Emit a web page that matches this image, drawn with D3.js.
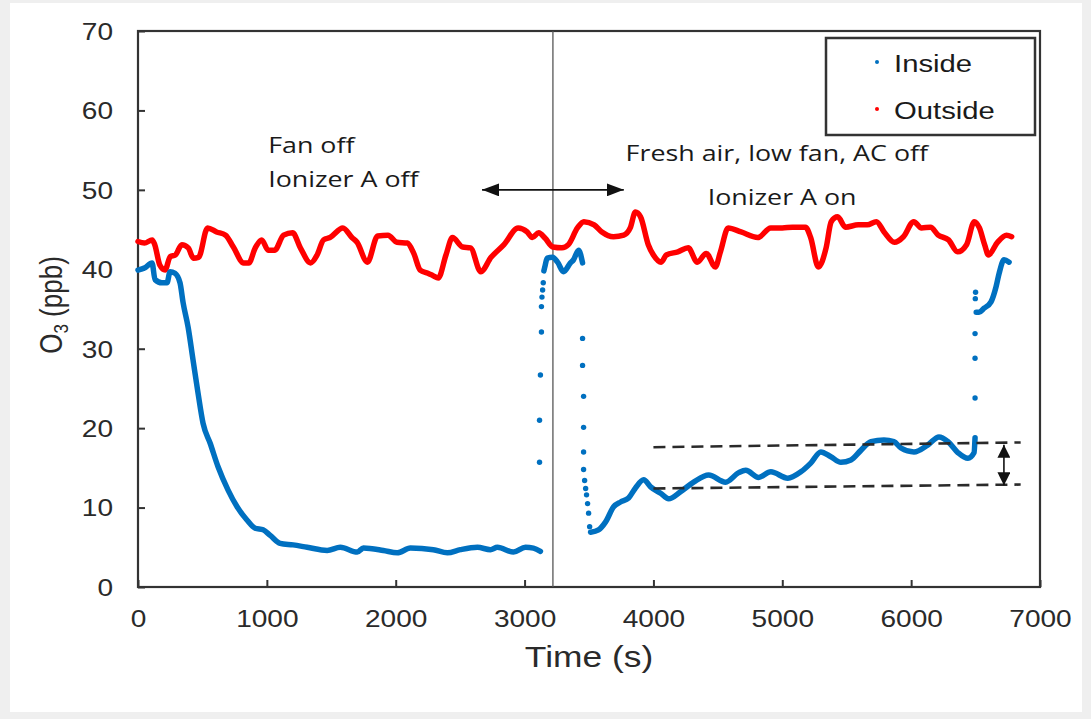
<!DOCTYPE html>
<html>
<head>
<meta charset="utf-8">
<script src="https://cdn.jsdelivr.net/npm/d3@7/dist/d3.min.js"></script>
<style>
  body { margin: 0; background: #efefef; }
  svg { display: block; }
</style>
</head>
<body>
<div class="ozoneChart"></div>
<script>
// time (s), O3 (ppb)
var outside = [[0,43.5],[50,43.3],[110,43.7],[130,43.1],[170,40.5],[210,39.9],[250,41.6],[290,41.8],[340,43.1],[390,42.7],
  [430,41.4],[470,41.5],[540,45.2],[610,44.7],[680,44.3],[740,42.8],[820,40.8],[860,40.8],[910,42.7],[960,43.7],
  [1010,42.4],[1060,42.4],[1130,44.3],[1200,44.6],[1260,42.7],[1340,40.8],[1390,41.8],[1440,43.7],[1490,44.0],[1590,45.2],
  [1660,44.0],[1700,43.4],[1780,40.9],[1860,44.2],[1940,44.3],[2010,43.4],[2090,43.3],[2140,42.0],[2190,39.9],[2250,39.5],
  [2290,39.2],[2330,38.9],[2390,41.8],[2440,44.0],[2520,42.8],[2580,42.7],[2660,39.7],[2740,41.5],[2840,43.1],[2950,45.2],
  [3020,44.7],[3060,44.0],[3110,44.6],[3160,43.9],[3220,42.8],[3290,42.7],[3340,43.1],[3410,45.2],[3460,46.0],[3540,45.6],
  [3600,44.7],[3690,44.1],[3770,44.3],[3820,45.2],[3860,47.2],[3900,46.6],[3960,43.1],[4000,41.8],[4060,40.9],[4100,41.8],
  [4190,42.2],[4270,42.7],[4340,40.9],[4410,42.0],[4480,40.3],[4520,42.2],[4580,45.2],[4680,44.7],[4810,44.0],[4910,45.2],
  [5000,45.2],[5080,45.3],[5180,45.3],[5220,44.0],[5280,40.3],[5340,42.7],[5380,46.0],[5430,46.6],[5490,45.3],[5590,45.6],
  [5660,45.6],[5730,46.0],[5790,44.7],[5870,43.4],[5940,44.1],[6020,46.0],[6080,45.2],[6150,45.3],[6210,44.3],[6290,43.7],
  [6360,42.2],[6430,43.1],[6490,46.0],[6530,45.2],[6570,43.1],[6600,41.8],[6670,43.4],[6740,44.3],[6780,44.1]];

// inside: continuous runs of dense points
var insideRun1 = [[0,39.9],[54,40.2],[109,40.8],[132,38.7],[186,38.3],[225,38.3],[249,39.7],[287,39.5],[326,38.3],[350,35.8],
  [389,32.7],[427,28.6],[466,24.4],[505,20.6],[560,18.1],[622,15.1],[699,12.2],[769,10.1],[847,8.4],[909,7.4],
  [971,7.2],[1026,6.5],[1103,5.5],[1204,5.3],[1313,5.0],[1468,4.6],[1570,5.0],[1702,4.4],[1749,4.9],[1904,4.6],
  [2012,4.3],[2114,4.9],[2292,4.7],[2401,4.3],[2502,4.7],[2634,5.0],[2735,4.7],[2789,5.0],[2914,4.4],[3007,5.0],
  [3069,4.9],[3123,4.5]];
var insideRun2 = [[3150,39.8],[3160,40.5],[3175,41.4],[3217,41.5],[3256,40.9],[3302,39.7],[3356,40.8],[3380,41.2],[3419,42.4],[3450,40.8]];
var insideRun3 = [[3512,6.9],[3574,7.2],[3629,8.2],[3691,10.1],[3745,10.7],[3807,11.2],[3862,12.5],[3924,13.5],[3978,12.6],[4056,11.8],
  [4118,11.1],[4211,12.0],[4312,13.2],[4429,14.1],[4560,13.2],[4662,14.4],[4716,14.7],[4817,13.8],[4911,14.5],[5043,13.7],
  [5144,14.5],[5221,15.6],[5299,17.0],[5377,16.4],[5455,15.7],[5533,16.0],[5610,17.2],[5688,18.3],[5789,18.5],[5866,18.3],
  [5921,17.5],[6022,17.0],[6131,17.9],[6216,18.9],[6286,18.3],[6364,16.9],[6441,16.2],[6488,16.9],[6496,18.8]];
var insideRun4 = [[6505,34.6],[6527,34.6],[6566,35.1],[6620,35.9],[6659,37.8],[6683,39.5],[6721,41.2],[6760,40.9]];
// inside: sparse points during the fast changes
var insideJumps = [[3116,15.7],[3116,21.0],[3123,26.7],[3131,32.1],[3131,35.3],[3135,36.5],[3140,37.4],[3145,38.3],
  [3450,31.3],[3450,27.9],[3458,24.0],[3458,20.1],[3458,17.0],[3458,14.8],[3466,13.4],[3474,12.4],[3481,11.6],
  [3489,10.5],[3497,9.3],[3505,7.6],
  [6496,23.8],[6496,28.8],[6496,31.9],[6498,36.3],[6500,37.1]];

var xTicks = [0, 1000, 2000, 3000, 4000, 5000, 6000, 7000];
var yTicks = [0, 10, 20, 30, 40, 50, 60, 70];
var legendNames = ["Inside", "Outside"];
var legendColors = ["#0070c0", "#ff0000"];

var switchTime = 3220;
var spanArrow = [[2670, 50], [3770, 50]];
var dashUpper = [[4000, 17.6], [6850, 18.2]];
var dashLower = [[4000, 12.4], [6850, 12.9]];
var gapArrow = [[6720, 17.9], [6720, 12.8]];
var notes = [
  { text: "Fan off", t: 1010, v: 54.6 },
  { text: "Ionizer A off", t: 1010, v: 50.4 },
  { text: "Fresh air, low fan, AC off", t: 3784, v: 53.6 },
  { text: "Ionizer A on", t: 4421, v: 48.1 }
];

var stretch = 1.22;

var svg = d3.select(".ozoneChart").append("svg")
  .attr("width", 1091)
  .attr("height", 719);

svg.append("rect")
  .attr("x", 10).attr("y", 3)
  .attr("width", 1072).attr("height", 709)
  .attr("fill", "white");

var x = d3.scaleLinear().domain([0, 7000]).range([138, 1040]);
var y = d3.scaleLinear().domain([0, 70]).range([587, 31]);

var defs = svg.append("defs");
[["headWide", 17, 13], ["headSmall", 13, 13]].forEach(function(m) {
  defs.append("marker")
    .attr("id", m[0])
    .attr("viewBox", "0 0 10 10")
    .attr("refX", 10).attr("refY", 5)
    .attr("markerWidth", m[1]).attr("markerHeight", m[2])
    .attr("markerUnits", "userSpaceOnUse")
    .attr("orient", "auto-start-reverse")
    .attr("preserveAspectRatio", "none")
    .append("path")
    .attr("d", "M0,0L10,5L0,10Z")
    .attr("fill", "#111");
});

// axes, ticks point inward
var xAxis = svg.append("g")
  .attr("transform", "translate(0," + y(0) + ")")
  .call(d3.axisBottom(x).tickValues(xTicks).tickFormat(d3.format("d")).tickSizeInner(-7).tickSizeOuter(0));
var yAxis = svg.append("g")
  .attr("transform", "translate(" + x(0) + ",0)")
  .call(d3.axisLeft(y).tickValues(yTicks).tickFormat(d3.format("d")).tickSizeInner(-7).tickSizeOuter(0));

[xAxis, yAxis].forEach(function(a) {
  a.select(".domain").remove();
  a.selectAll(".tick line").attr("stroke", "#333").attr("stroke-width", 2);
  a.selectAll(".tick text")
    .attr("fill", "#2a2a2a")
    .attr("font-family", "'Liberation Sans', Arial, sans-serif")
    .attr("font-size", 23);
});
xAxis.selectAll(".tick text")
  .attr("y", 40).attr("dy", 0)
  .attr("transform", "scale(" + stretch + ",1)");
yAxis.selectAll(".tick text")
  .attr("x", -25 / stretch).attr("dy", "0.36em")
  .attr("transform", "scale(" + stretch + ",1)");

svg.append("rect")
  .attr("x", x(0)).attr("y", y(70))
  .attr("width", x(7000) - x(0))
  .attr("height", y(0) - y(70))
  .attr("fill", "none")
  .attr("stroke", "#333")
  .attr("stroke-width", 2.2);

// axis titles
svg.append("text")
  .attr("transform", "translate(" + x(3500) + ",667) scale(" + stretch + ",1)")
  .attr("text-anchor", "middle")
  .attr("font-family", "'Liberation Sans', Arial, sans-serif")
  .attr("font-size", 29)
  .attr("fill", "#2a2a2a")
  .text("Time (s)");

var yTitle = svg.append("text")
  .attr("transform", "translate(62,305) rotate(-90) scale(1," + stretch + ")")
  .attr("text-anchor", "middle")
  .attr("font-family", "'Liberation Sans', Arial, sans-serif")
  .attr("font-size", 26)
  .attr("fill", "#2a2a2a");
yTitle.append("tspan").text("O");
yTitle.append("tspan").attr("font-size", 17).attr("dy", 5).text("3");
yTitle.append("tspan").attr("dy", -5).text(" (ppb)");

// switch-over line
svg.append("line")
  .attr("x1", x(switchTime)).attr("x2", x(switchTime))
  .attr("y1", y(0)).attr("y2", y(70))
  .attr("stroke", "#555")
  .attr("stroke-width", 1.3);

var line = d3.line()
  .x(function(d) { return x(d[0]); })
  .y(function(d) { return y(d[1]); });
var smooth = d3.line()
  .curve(d3.curveMonotoneX)
  .x(function(d) { return x(d[0]); })
  .y(function(d) { return y(d[1]); });

// outside series
svg.append("path")
  .datum(outside)
  .attr("d", smooth)
  .attr("fill", "none")
  .attr("stroke", legendColors[1])
  .attr("stroke-width", 5.5)
  .attr("stroke-linejoin", "round")
  .attr("stroke-linecap", "round");

// inside series
svg.selectAll("path.inside")
  .data([insideRun1, insideRun2, insideRun3, insideRun4])
  .enter().append("path")
  .attr("class", "inside")
  .attr("d", smooth)
  .attr("fill", "none")
  .attr("stroke", legendColors[0])
  .attr("stroke-width", 5.5)
  .attr("stroke-linejoin", "round")
  .attr("stroke-linecap", "round");

svg.selectAll("circle.jump")
  .data(insideJumps)
  .enter().append("circle")
  .attr("class", "jump")
  .attr("cx", function(d) { return x(d[0]); })
  .attr("cy", function(d) { return y(d[1]); })
  .attr("r", 2.7)
  .attr("fill", legendColors[0]);

// dashed guide lines and arrows
svg.selectAll("path.guide")
  .data([dashUpper, dashLower])
  .enter().append("path")
  .attr("class", "guide")
  .attr("d", line)
  .attr("fill", "none")
  .attr("stroke", "#2a2a2a")
  .attr("stroke-width", 2.6)
  .attr("stroke-dasharray", "12,7");

svg.selectAll("path.arrow")
  .data([[spanArrow, "headWide"], [gapArrow, "headSmall"]])
  .enter().append("path")
  .attr("class", "arrow")
  .attr("d", function(d) { return line(d[0]); })
  .attr("fill", "none")
  .attr("stroke", "#111")
  .attr("stroke-width", 1.6)
  .attr("marker-start", function(d) { return "url(#" + d[1] + ")"; })
  .attr("marker-end", function(d) { return "url(#" + d[1] + ")"; });

// annotations
svg.selectAll("text.note")
  .data(notes)
  .enter().append("text")
  .attr("class", "note")
  .attr("transform", function(d) {
    return "translate(" + x(d.t) + "," + y(d.v) + ") scale(" + stretch + ",1)";
  })
  .attr("font-family", "'Open Sans', sans-serif")
  .attr("font-size", 22)
  .attr("fill", "#1a1a1a")
  .text(function(d) { return d.text; });

// legend
var legend = svg.append("g");
legend.append("rect")
  .attr("x", 826).attr("y", 38)
  .attr("width", 209).attr("height", 97)
  .attr("fill", "white")
  .attr("stroke", "#333")
  .attr("stroke-width", 2.5);

var items = legend.selectAll("g.item")
  .data(legendNames)
  .enter().append("g")
  .attr("class", "item")
  .attr("transform", function(d, i) { return "translate(0," + (i * 47) + ")"; });
items.append("circle")
  .attr("cx", 877).attr("cy", 62)
  .attr("r", 2)
  .attr("fill", function(d, i) { return legendColors[i]; });
items.append("text")
  .attr("transform", "translate(894,72) scale(" + stretch + ",1)")
  .attr("font-family", "'Liberation Sans', Arial, sans-serif")
  .attr("font-size", 24)
  .attr("fill", "#1a1a1a")
  .text(function(d) { return d; });
</script>
</body>
</html>
